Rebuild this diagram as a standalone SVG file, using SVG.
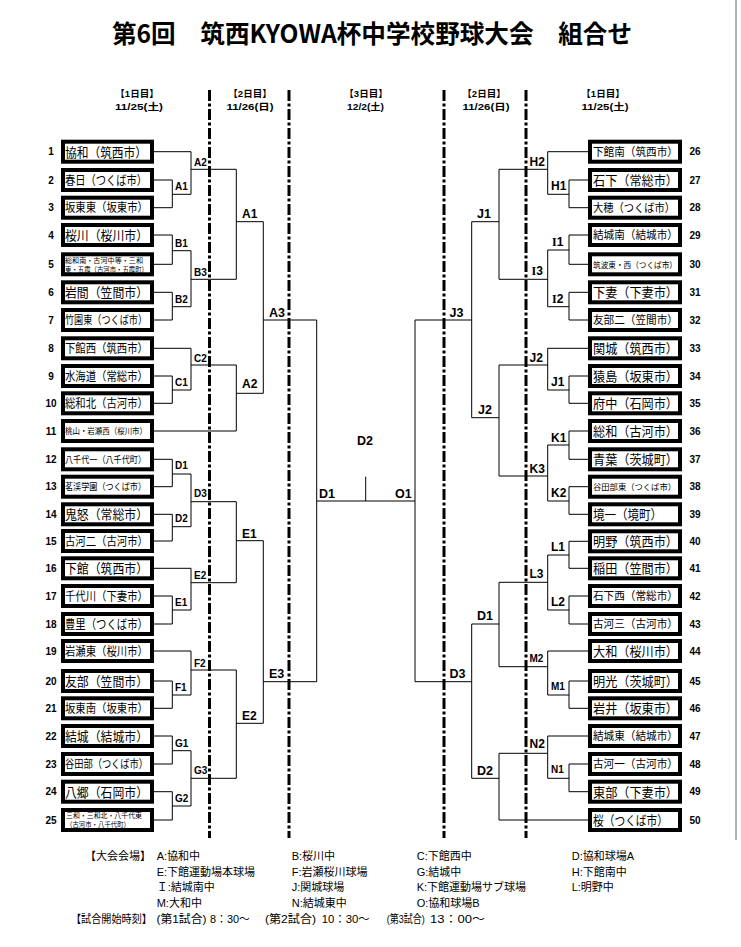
<svg xmlns="http://www.w3.org/2000/svg" width="741" height="947" viewBox="0 0 741 947">
<style>
.bg{fill:#fff}
.dash{stroke:#000;stroke-width:3;stroke-dasharray:11 2.5 3 2.5;fill:none}
.ln{stroke:#000;stroke-width:1;fill:none}
.box{fill:#fff;stroke:#000;stroke-width:4}
.nm{font-family:"Noto Sans CJK JP","Noto Sans CJK SC",sans-serif;fill:#000}
.no{font-family:"Liberation Sans",Arial,sans-serif;font-weight:bold;font-size:10px;text-anchor:middle;fill:#000}
.lb{font-family:"Liberation Sans",Arial,sans-serif;font-weight:bold;fill:#000}
.s10{font-size:10px}.s12{font-size:12px}.s13{font-size:12.5px}
.ser{font-family:"Liberation Serif","Times New Roman",serif}
.hd{font-family:"Liberation Sans","Noto Sans CJK JP",sans-serif;font-weight:bold;font-size:9.5px;text-anchor:middle;fill:#000}
.lg{font-family:"Liberation Sans","Noto Sans CJK JP",sans-serif;font-size:11px;fill:#000}
.ttl{font-family:"Noto Sans CJK JP","Noto Sans CJK SC",sans-serif;font-weight:bold;font-size:25px;fill:#000}
</style>
<rect class="bg" x="0" y="0" width="741" height="947"/>
<line x1="736" y1="0" x2="736" y2="840" stroke="#666" stroke-width="1"/>
<text class="ttl" x="112" y="43" textLength="520" lengthAdjust="spacingAndGlyphs">第6回　筑西KYOWA杯中学校野球大会　組合せ</text>

<g id="headers">
<text class="hd" x="137" y="97">【1日目】</text>
<text class="hd" x="139" y="110" textLength="48" lengthAdjust="spacingAndGlyphs">11/25(土)</text>
<text class="hd" x="250" y="97">【2日目】</text>
<text class="hd" x="250" y="110" textLength="47" lengthAdjust="spacingAndGlyphs">11/26(日)</text>
<text class="hd" x="366" y="97">【3日目】</text>
<text class="hd" x="365.5" y="110" textLength="37" lengthAdjust="spacingAndGlyphs">12/2(土)</text>
<text class="hd" x="484" y="97">【2日目】</text>
<text class="hd" x="486" y="110" textLength="47" lengthAdjust="spacingAndGlyphs">11/26(日)</text>
<text class="hd" x="603" y="97">【1日目】</text>
<text class="hd" x="605" y="110" textLength="47" lengthAdjust="spacingAndGlyphs">11/25(土)</text>
</g>

<g id="day-dividers">
<line class="dash" x1="209.5" y1="90" x2="209.5" y2="838"/>
<line class="dash" x1="289" y1="90" x2="289" y2="838"/>
<line class="dash" x1="444" y1="90" x2="444" y2="838"/>
<line class="dash" x1="526" y1="90" x2="526" y2="838"/>
</g>

<g id="connectors">
<path class="ln" d="M154 151.7H191V194.3M154 180H172.3V207.7H154M172.3 194.3H191M191 169.3H236.3"/>
<path class="ln" d="M154 235H172.3V264.3H154M172.3 250.7H191M154 292.3H172.3V320H154M172.3 306.7H191M191 250.7V306.7M191 279.3H236.3"/>
<path class="ln" d="M154 348.3H191V390M154 376H172.3V403.3H154M172.3 390H191M191 365H236.3M154 431H236.3"/>
<path class="ln" d="M154 459.3H172.3V486.7H154M172.3 474H191M154 514.3H172.3V541H154M172.3 526.7H191M191 474V526.7M191 501.7H236.3"/>
<path class="ln" d="M154 568.3H191V610M154 596H172.3V624H154M172.3 610H191M191 582.7H236.3"/>
<path class="ln" d="M154 651H191V695M154 681H172.3V708.3H154M172.3 695H191M191 670H236.3"/>
<path class="ln" d="M154 736H172.3V764H154M172.3 750.7H191M154 791.7H172.3V820H154M172.3 806H191M191 750.7V806M191 778.3H236.3"/>
<path class="ln" d="M236.3 169.3V279.3M236.3 221.7H263.3M236.3 365V431M236.3 393.3H263.3M236.3 501.7V582.7M236.3 540.7H263.3M236.3 670V778.3M236.3 723.3H263.3"/>
<path class="ln" d="M263.3 221.7V393.3M263.3 320H316.7M263.3 540.7V723.3M263.3 681.7H316.7"/>
<path class="ln" d="M316.7 320V681.7M316.7 501H415M365.7 476.7V501M415 320V681.7"/>
<path class="ln" d="M415 320H471.7M471.7 221.7V417.7M471.7 221.7H499M471.7 417.7H499M415 681.7H471.7M471.7 624V778.3M471.7 624H499M471.7 778.3H499"/>
<path class="ln" d="M499 169.3V279.3M499 365V476M499 582.3V666.7M499 753.3V820M499 820H588"/>
<path class="ln" d="M499 169.3H547.7M547.7 151.7V194.3M547.7 151.7H588M547.7 194.3H569M569 180V207.7M569 180H588M569 207.7H588"/>
<path class="ln" d="M499 279.3H547.7M547.7 250V306.7M547.7 250H569M569 235V264.3M569 235H588M569 264.3H588M547.7 306.7H569M569 292.3V320M569 292.3H588M569 320H588"/>
<path class="ln" d="M499 365H547.7M547.7 348.3V390M547.7 348.3H588M547.7 390H569M569 376V403.3M569 376H588M569 403.3H588"/>
<path class="ln" d="M499 476H547.7M547.7 445V501M547.7 445H569M569 431V459.3M569 431H588M569 459.3H588M547.7 501H569M569 486.7V514.3M569 486.7H588M569 514.3H588"/>
<path class="ln" d="M499 582.3H547.7M547.7 555V610M547.7 555H569M569 541.3V568.3M569 541.3H588M569 568.3H588M547.7 610H569M569 596V624M569 596H588M569 624H588"/>
<path class="ln" d="M499 666.7H547.7M547.7 651V695M547.7 651H588M547.7 695H569M569 681V708.3M569 681H588M569 708.3H588"/>
<path class="ln" d="M499 753.3H547.7M547.7 736V778.3M547.7 736H588M547.7 778.3H569M569 764V791.7M569 764H588M569 791.7H588"/>
</g>

<g id="match-labels">
<text class="lb s10" x="175" y="190">A1</text>
<text class="lb s10" x="175" y="246.7">B1</text>
<text class="lb s10" x="175" y="303">B2</text>
<text class="lb s10" x="175" y="386">C1</text>
<text class="lb s10" x="175" y="469">D1</text>
<text class="lb s10" x="175" y="522.3">D2</text>
<text class="lb s10" x="175" y="606">E1</text>
<text class="lb s10" x="175" y="690.7">F1</text>
<text class="lb s10" x="175" y="746.7">G1</text>
<text class="lb s10" x="175" y="801.7">G2</text>
<text class="lb s10" x="194" y="166">A2</text>
<text class="lb s10" x="194" y="276">B3</text>
<text class="lb s10" x="194" y="362">C2</text>
<text class="lb s10" x="194" y="496.7">D3</text>
<text class="lb s10" x="194" y="579.3">E2</text>
<text class="lb s10" x="194" y="666.7">F2</text>
<text class="lb s10" x="194" y="774">G3</text>
<text class="lb s12" x="242" y="218">A1</text>
<text class="lb s12" x="242" y="388">A2</text>
<text class="lb s12" x="242" y="538">E1</text>
<text class="lb s12" x="242" y="720">E2</text>
<text class="lb s13" x="269" y="317">A3</text>
<text class="lb s13" x="269" y="678.3">E3</text>
<text class="lb s13" x="357" y="445">D2</text>
<text class="lb s13" x="319" y="498.3">D1</text>
<text class="lb s13" x="395" y="498.3">O1</text>
<text class="lb s13" x="449.5" y="317.3">J3</text>
<text class="lb s13" x="449.5" y="678.3">D3</text>
<text class="lb s13" x="477" y="218">J1</text>
<text class="lb s13" x="478" y="414.3">J2</text>
<text class="lb s13" x="477" y="620">D1</text>
<text class="lb s13" x="477" y="775">D2</text>
<text class="lb s12" x="529.5" y="165.7">H2</text>
<text class="lb s12" x="531.5" y="275"><tspan class="ser">I</tspan>3</text>
<text class="lb s12" x="529.5" y="361.7">J2</text>
<text class="lb s12" x="529.5" y="472.7">K3</text>
<text class="lb s12" x="529.5" y="578">L3</text>
<text class="lb s10" x="529.5" y="661.7">M2</text>
<text class="lb s12" x="529.5" y="748.3">N2</text>
<text class="lb s12" x="551" y="190">H1</text>
<text class="lb s12" x="552" y="245.7"><tspan class="ser">I</tspan>1</text>
<text class="lb s12" x="552" y="302.7"><tspan class="ser">I</tspan>2</text>
<text class="lb s12" x="551" y="385.7">J1</text>
<text class="lb s12" x="551" y="441.7">K1</text>
<text class="lb s12" x="551" y="496.7">K2</text>
<text class="lb s12" x="551" y="551">L1</text>
<text class="lb s12" x="551" y="605.7">L2</text>
<text class="lb s10" x="551" y="690">M1</text>
<text class="lb s10" x="551" y="773.3">N1</text>
</g>

<g id="team-1"><rect class="box" x="63" y="141.7" width="89" height="20"/><text class="no" x="51" y="155.2">1</text><text class="nm" x="65" y="156.6" font-size="13" textLength="82" lengthAdjust="spacingAndGlyphs">協和（筑西市）</text></g>
<g id="team-2"><rect class="box" x="63" y="170" width="89" height="20"/><text class="no" x="51" y="183.5">2</text><text class="nm" x="65" y="184.7" font-size="12.5" textLength="82" lengthAdjust="spacingAndGlyphs">春日（つくば市）</text></g>
<g id="team-3"><rect class="box" x="63" y="197.7" width="89" height="20"/><text class="no" x="51" y="211.2">3</text><text class="nm" x="65" y="212.3" font-size="12" textLength="83" lengthAdjust="spacingAndGlyphs">坂東東（坂東市）</text></g>
<g id="team-4"><rect class="box" x="63" y="225" width="89" height="20"/><text class="no" x="51" y="238.5">4</text><text class="nm" x="65" y="239.9" font-size="13" textLength="83" lengthAdjust="spacingAndGlyphs">桜川（桜川市）</text></g>
<g id="team-5"><rect class="box" x="63" y="254.3" width="89" height="20"/><text class="no" x="51" y="267.8">5</text><text class="nm" x="65" y="263.4" font-size="7.3" textLength="78" lengthAdjust="spacingAndGlyphs">総和南・古河中等・三和</text><text class="nm" x="65" y="272.3" font-size="7.3" textLength="83" lengthAdjust="spacingAndGlyphs">東・五霞（古河市・五霞町）</text></g>
<g id="team-6"><rect class="box" x="63" y="282.3" width="89" height="20"/><text class="no" x="51" y="295.8">6</text><text class="nm" x="65" y="297.2" font-size="13" textLength="83" lengthAdjust="spacingAndGlyphs">岩間（笠間市）</text></g>
<g id="team-7"><rect class="box" x="63" y="310" width="89" height="20"/><text class="no" x="51" y="323.5">7</text><text class="nm" x="65" y="324.4" font-size="11.5" textLength="82" lengthAdjust="spacingAndGlyphs">竹園東（つくば市）</text></g>
<g id="team-8"><rect class="box" x="63" y="338.3" width="89" height="20"/><text class="no" x="51" y="351.8">8</text><text class="nm" x="65" y="352.9" font-size="12" textLength="83" lengthAdjust="spacingAndGlyphs">下館西（筑西市）</text></g>
<g id="team-9"><rect class="box" x="63" y="366" width="89" height="20"/><text class="no" x="51" y="379.5">9</text><text class="nm" x="65" y="380.6" font-size="12" textLength="83" lengthAdjust="spacingAndGlyphs">水海道（常総市）</text></g>
<g id="team-10"><rect class="box" x="63" y="393.3" width="89" height="20"/><text class="no" x="51" y="406.8">10</text><text class="nm" x="65" y="407.9" font-size="12" textLength="83" lengthAdjust="spacingAndGlyphs">総和北（古河市）</text></g>
<g id="team-11"><rect class="box" x="63" y="421" width="89" height="20"/><text class="no" x="51" y="434.5">11</text><text class="nm" x="65" y="434.2" font-size="8.5" textLength="82" lengthAdjust="spacingAndGlyphs">桃山・岩瀬西（桜川市）</text></g>
<g id="team-12"><rect class="box" x="63" y="449.3" width="89" height="20"/><text class="no" x="51" y="462.8">12</text><text class="nm" x="65" y="462.9" font-size="9.5" textLength="81" lengthAdjust="spacingAndGlyphs">八千代一（八千代町）</text></g>
<g id="team-13"><rect class="box" x="63" y="476.7" width="89" height="20"/><text class="no" x="51" y="490.2">13</text><text class="nm" x="65" y="490.3" font-size="9.5" textLength="81" lengthAdjust="spacingAndGlyphs">茗渓学園（つくば市）</text></g>
<g id="team-14"><rect class="box" x="63" y="504.3" width="89" height="20"/><text class="no" x="51" y="517.8">14</text><text class="nm" x="65" y="519.2" font-size="13" textLength="83" lengthAdjust="spacingAndGlyphs">鬼怒（常総市）</text></g>
<g id="team-15"><rect class="box" x="63" y="531" width="89" height="20"/><text class="no" x="51" y="544.5">15</text><text class="nm" x="65" y="545.6" font-size="12" textLength="83" lengthAdjust="spacingAndGlyphs">古河二（古河市）</text></g>
<g id="team-16"><rect class="box" x="63" y="558.3" width="89" height="20"/><text class="no" x="51" y="571.8">16</text><text class="nm" x="65" y="573.2" font-size="13" textLength="83" lengthAdjust="spacingAndGlyphs">下館（筑西市）</text></g>
<g id="team-17"><rect class="box" x="63" y="586" width="89" height="20"/><text class="no" x="51" y="599.5">17</text><text class="nm" x="65" y="600.6" font-size="12" textLength="83" lengthAdjust="spacingAndGlyphs">千代川（下妻市）</text></g>
<g id="team-18"><rect class="box" x="63" y="614" width="89" height="20"/><text class="no" x="51" y="627.5">18</text><text class="nm" x="65" y="628.7" font-size="12.5" textLength="83" lengthAdjust="spacingAndGlyphs">豊里（つくば市）</text></g>
<g id="team-19"><rect class="box" x="63" y="641" width="89" height="20"/><text class="no" x="51" y="654.5">19</text><text class="nm" x="65" y="655.6" font-size="12" textLength="83" lengthAdjust="spacingAndGlyphs">岩瀬東（桜川市）</text></g>
<g id="team-20"><rect class="box" x="63" y="671" width="89" height="20"/><text class="no" x="51" y="684.5">20</text><text class="nm" x="65" y="685.9" font-size="13" textLength="83" lengthAdjust="spacingAndGlyphs">友部（笠間市）</text></g>
<g id="team-21"><rect class="box" x="63" y="698.3" width="89" height="20"/><text class="no" x="51" y="711.8">21</text><text class="nm" x="65" y="712.9" font-size="12" textLength="83" lengthAdjust="spacingAndGlyphs">坂東南（坂東市）</text></g>
<g id="team-22"><rect class="box" x="63" y="726" width="89" height="20"/><text class="no" x="51" y="739.5">22</text><text class="nm" x="65" y="740.9" font-size="13" textLength="83" lengthAdjust="spacingAndGlyphs">結城（結城市）</text></g>
<g id="team-23"><rect class="box" x="63" y="754" width="89" height="20"/><text class="no" x="51" y="767.5">23</text><text class="nm" x="65" y="768.4" font-size="11.5" textLength="83" lengthAdjust="spacingAndGlyphs">谷田部（つくば市）</text></g>
<g id="team-24"><rect class="box" x="63" y="781.7" width="89" height="20"/><text class="no" x="51" y="795.2">24</text><text class="nm" x="65" y="796.6" font-size="13" textLength="83" lengthAdjust="spacingAndGlyphs">八郷（石岡市）</text></g>
<g id="team-25"><rect class="box" x="63" y="810" width="89" height="20"/><text class="no" x="51" y="823.5">25</text><text class="nm" x="66" y="818.2" font-size="7.2" textLength="76" lengthAdjust="spacingAndGlyphs">三和・三和北・八千代東</text><text class="nm" x="66" y="826.8" font-size="7.2" textLength="64" lengthAdjust="spacingAndGlyphs">（古河市・八千代町）</text></g>

<g id="team-26"><rect class="box" x="590" y="141.7" width="90" height="20"/><text class="no" x="695" y="155.2">26</text><text class="nm" x="593" y="156.1" font-size="11.5" textLength="85" lengthAdjust="spacingAndGlyphs">下館南（筑西市）</text></g>
<g id="team-27"><rect class="box" x="590" y="170" width="90" height="20"/><text class="no" x="695" y="183.5">27</text><text class="nm" x="593" y="184.9" font-size="13" textLength="85" lengthAdjust="spacingAndGlyphs">石下（常総市）</text></g>
<g id="team-28"><rect class="box" x="590" y="197.7" width="90" height="20"/><text class="no" x="695" y="211.2">28</text><text class="nm" x="593" y="212.1" font-size="11.5" textLength="82" lengthAdjust="spacingAndGlyphs">大穂（つくば市）</text></g>
<g id="team-29"><rect class="box" x="590" y="225" width="90" height="20"/><text class="no" x="695" y="238.5">29</text><text class="nm" x="593" y="239.4" font-size="11.5" textLength="85" lengthAdjust="spacingAndGlyphs">結城南（結城市）</text></g>
<g id="team-30"><rect class="box" x="590" y="254.3" width="90" height="20"/><text class="no" x="695" y="267.8">30</text><text class="nm" x="593" y="267.5" font-size="8.5" textLength="84" lengthAdjust="spacingAndGlyphs">筑波東・西（つくば市）</text></g>
<g id="team-31"><rect class="box" x="590" y="282.3" width="90" height="20"/><text class="no" x="695" y="295.8">31</text><text class="nm" x="593" y="297.2" font-size="13" textLength="85" lengthAdjust="spacingAndGlyphs">下妻（下妻市）</text></g>
<g id="team-32"><rect class="box" x="590" y="310" width="90" height="20"/><text class="no" x="695" y="323.5">32</text><text class="nm" x="593" y="324.4" font-size="11.5" textLength="85" lengthAdjust="spacingAndGlyphs">友部二（笠間市）</text></g>
<g id="team-33"><rect class="box" x="590" y="338.3" width="90" height="20"/><text class="no" x="695" y="351.8">33</text><text class="nm" x="593" y="353.2" font-size="13" textLength="85" lengthAdjust="spacingAndGlyphs">関城（筑西市）</text></g>
<g id="team-34"><rect class="box" x="590" y="366" width="90" height="20"/><text class="no" x="695" y="379.5">34</text><text class="nm" x="593" y="380.9" font-size="13" textLength="85" lengthAdjust="spacingAndGlyphs">猿島（坂東市）</text></g>
<g id="team-35"><rect class="box" x="590" y="393.3" width="90" height="20"/><text class="no" x="695" y="406.8">35</text><text class="nm" x="593" y="408.2" font-size="13" textLength="85" lengthAdjust="spacingAndGlyphs">府中（石岡市）</text></g>
<g id="team-36"><rect class="box" x="590" y="421" width="90" height="20"/><text class="no" x="695" y="434.5">36</text><text class="nm" x="593" y="435.9" font-size="13" textLength="85" lengthAdjust="spacingAndGlyphs">総和（古河市）</text></g>
<g id="team-37"><rect class="box" x="590" y="449.3" width="90" height="20"/><text class="no" x="695" y="462.8">37</text><text class="nm" x="593" y="464.2" font-size="13" textLength="85" lengthAdjust="spacingAndGlyphs">青葉（茨城町）</text></g>
<g id="team-38"><rect class="box" x="590" y="476.7" width="90" height="20"/><text class="no" x="695" y="490.2">38</text><text class="nm" x="593" y="490" font-size="8.5" textLength="83" lengthAdjust="spacingAndGlyphs">谷田部東（つくば市）</text></g>
<g id="team-39"><rect class="box" x="590" y="504.3" width="90" height="20"/><text class="no" x="695" y="517.8">39</text><text class="nm" x="593" y="519.2" font-size="13" textLength="69" lengthAdjust="spacingAndGlyphs">境一（境町）</text></g>
<g id="team-40"><rect class="box" x="590" y="531.3" width="90" height="20"/><text class="no" x="695" y="544.8">40</text><text class="nm" x="593" y="546.2" font-size="13" textLength="85" lengthAdjust="spacingAndGlyphs">明野（筑西市）</text></g>
<g id="team-41"><rect class="box" x="590" y="558.3" width="90" height="20"/><text class="no" x="695" y="571.8">41</text><text class="nm" x="593" y="573.2" font-size="13" textLength="85" lengthAdjust="spacingAndGlyphs">稲田（笠間市）</text></g>
<g id="team-42"><rect class="box" x="590" y="586" width="90" height="20"/><text class="no" x="695" y="599.5">42</text><text class="nm" x="593" y="600.4" font-size="11.5" textLength="85" lengthAdjust="spacingAndGlyphs">石下西（常総市）</text></g>
<g id="team-43"><rect class="box" x="590" y="614" width="90" height="20"/><text class="no" x="695" y="627.5">43</text><text class="nm" x="593" y="628.4" font-size="11.5" textLength="85" lengthAdjust="spacingAndGlyphs">古河三（古河市）</text></g>
<g id="team-44"><rect class="box" x="590" y="641" width="90" height="20"/><text class="no" x="695" y="654.5">44</text><text class="nm" x="593" y="655.9" font-size="13" textLength="85" lengthAdjust="spacingAndGlyphs">大和（桜川市）</text></g>
<g id="team-45"><rect class="box" x="590" y="671" width="90" height="20"/><text class="no" x="695" y="684.5">45</text><text class="nm" x="593" y="685.9" font-size="13" textLength="85" lengthAdjust="spacingAndGlyphs">明光（茨城町）</text></g>
<g id="team-46"><rect class="box" x="590" y="698.3" width="90" height="20"/><text class="no" x="695" y="711.8">46</text><text class="nm" x="593" y="713.2" font-size="13" textLength="85" lengthAdjust="spacingAndGlyphs">岩井（坂東市）</text></g>
<g id="team-47"><rect class="box" x="590" y="726" width="90" height="20"/><text class="no" x="695" y="739.5">47</text><text class="nm" x="593" y="740.4" font-size="11.5" textLength="85" lengthAdjust="spacingAndGlyphs">結城東（結城市）</text></g>
<g id="team-48"><rect class="box" x="590" y="754" width="90" height="20"/><text class="no" x="695" y="767.5">48</text><text class="nm" x="593" y="768.4" font-size="11.5" textLength="85" lengthAdjust="spacingAndGlyphs">古河一（古河市）</text></g>
<g id="team-49"><rect class="box" x="590" y="781.7" width="90" height="20"/><text class="no" x="695" y="795.2">49</text><text class="nm" x="593" y="796.6" font-size="13" textLength="85" lengthAdjust="spacingAndGlyphs">東部（下妻市）</text></g>
<g id="team-50"><rect class="box" x="590" y="810" width="90" height="20"/><text class="no" x="695" y="823.5">50</text><text class="nm" x="593" y="824.9" font-size="13" textLength="75" lengthAdjust="spacingAndGlyphs">桜（つくば市）</text></g>

<g id="legend">
<text class="lg" x="85" y="860">【大会会場】</text>
<text class="lg" x="156.7" y="860">A:協和中</text>
<text class="lg" x="291.7" y="860">B:桜川中</text>
<text class="lg" x="416.7" y="860">C:下館西中</text>
<text class="lg" x="571.7" y="860">D:協和球場A</text>
<text class="lg" x="156.7" y="875.5">E:下館運動場本球場</text>
<text class="lg" x="291.7" y="875.5">F:岩瀬桜川球場</text>
<text class="lg" x="416.7" y="875.5">G:結城中</text>
<text class="lg" x="571.7" y="875.5">H:下館南中</text>
<text class="lg" x="156.7" y="891">Ｉ:結城南中</text>
<text class="lg" x="291.7" y="891">J:関城球場</text>
<text class="lg" x="416.7" y="891">K:下館運動場サブ球場</text>
<text class="lg" x="571.7" y="891">L:明野中</text>
<text class="lg" x="156.7" y="906.5">M:大和中</text>
<text class="lg" x="291.7" y="906.5">N:結城東中</text>
<text class="lg" x="416.7" y="906.5">O:協和球場B</text>
<text class="lg" x="71" y="922.5" textLength="81" lengthAdjust="spacingAndGlyphs">【試合開始時刻】</text>
<text class="lg" x="156.5" y="922.5" textLength="50" lengthAdjust="spacingAndGlyphs">(第1試合)</text>
<text class="lg" x="210" y="922.5" textLength="40" lengthAdjust="spacingAndGlyphs">8：30〜</text>
<text class="lg" x="265" y="922.5" textLength="51" lengthAdjust="spacingAndGlyphs">(第2試合)</text>
<text class="lg" x="321.7" y="922.5" textLength="48" lengthAdjust="spacingAndGlyphs">10：30〜</text>
<text class="lg" x="386.7" y="922.5" textLength="38" lengthAdjust="spacingAndGlyphs">(第3試合)</text>
<text class="lg" x="430" y="922.5" textLength="55" lengthAdjust="spacingAndGlyphs">13：00〜</text>
</g>
</svg>
